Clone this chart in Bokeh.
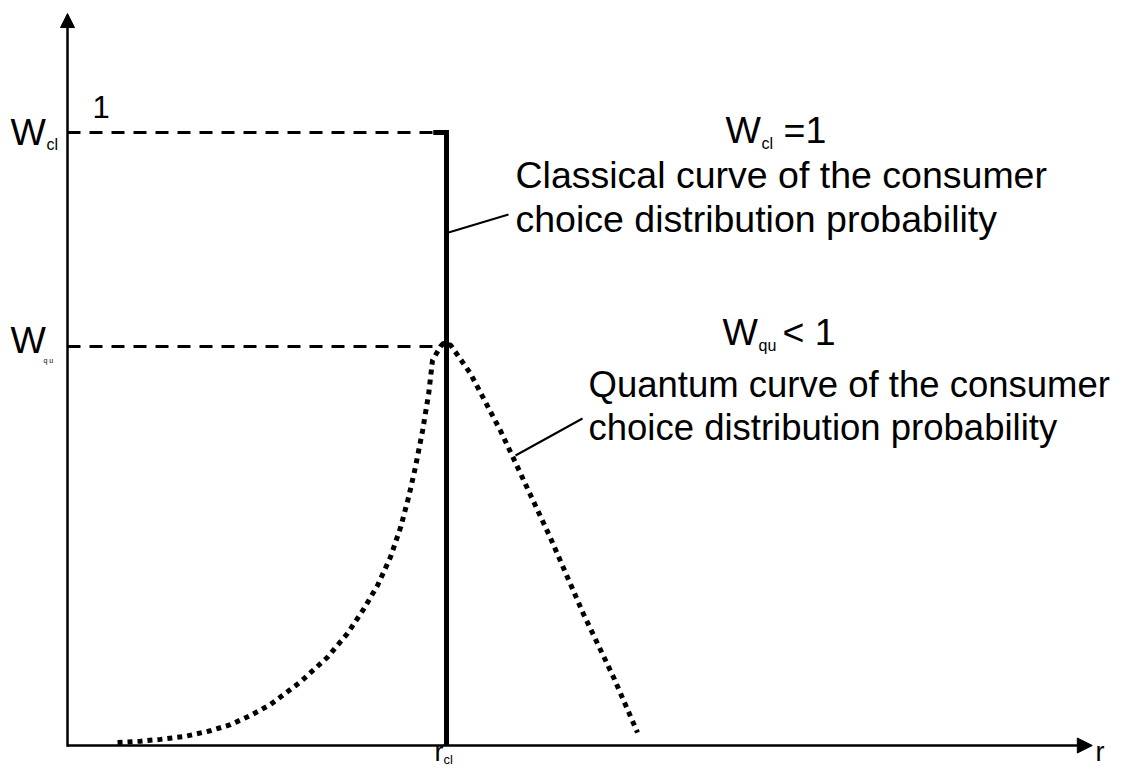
from bokeh.plotting import figure
from bokeh.models import Range1d, Arrow, NormalHead, Label
from bokeh.embed import file_html
from bokeh.resources import INLINE

# ---- data (r in units of r_cl, W as probability) ----
r_cl = 1.0
W_cl = 1.0
W_qu = 0.651
r_quantum = [0.132, 0.193, 0.245, 0.311, 0.377, 0.430, 0.483, 0.536, 0.615, 0.686,
             0.739, 0.781, 0.818, 0.852, 0.879, 0.900, 0.918, 0.937, 0.953, 0.963,
             0.984, 0.992, 1.011, 1.063, 1.142, 1.177, 1.274, 1.361, 1.441, 1.504]
w_quantum = [0.005, 0.007, 0.010, 0.015, 0.024, 0.034, 0.049, 0.067, 0.104, 0.144,
             0.183, 0.222, 0.261, 0.307, 0.356, 0.405, 0.454, 0.514, 0.574, 0.628,
             0.651, 0.656, 0.653, 0.607, 0.514, 0.468, 0.339, 0.215, 0.111, 0.021]
r_axis_end = 2.704
w_axis_end = 1.194

# ---- layout helpers (picture px -> data) ----
XS, YS = 379.0, 613.0
def px(x):
    return (x - 67) / XS
def py(y):
    return (745 - y) / YS

W, H = 1114, 767
p = figure(width=W, height=H, output_backend="svg", toolbar_location=None,
           title=None, x_axis_location=None, y_axis_location=None,
           x_range=Range1d(px(0), px(W)), y_range=Range1d(py(H), py(0)),
           min_border=0, outline_line_color=None, background_fill_color="white",
           border_fill_color="white")
p.xgrid.grid_line_color = None
p.ygrid.grid_line_color = None

FONT = "Liberation Sans"

# axes with arrows
p.add_layout(Arrow(end=NormalHead(size=15, fill_color="black", line_color="black", line_width=1),
                   x_start=0, y_start=0, x_end=r_axis_end, y_end=0,
                   line_width=2.5, line_color="black"))
p.add_layout(Arrow(end=NormalHead(size=14, fill_color="black", line_color="black", line_width=1),
                   x_start=0, y_start=-0.002, x_end=0, y_end=w_axis_end,
                   line_width=2.5, line_color="black"))

# dashed reference lines
p.line([0, r_cl], [W_cl, W_cl], line_color="black", line_width=3, line_dash="13 9")
p.line([0, r_quantum[20]], [W_qu, W_qu], line_color="black", line_width=3, line_dash="13 9")

# classical curve (vertical step at r_cl)
p.line([r_cl - 0.035, r_cl, r_cl], [W_cl, W_cl, 0], line_color="black", line_width=5,
       line_join="miter")

# quantum curve (dotted)
p.line(r_quantum, w_quantum, line_color="black", line_width=5, line_dash="5 5")

# leader lines
p.line([px(448), px(508)], [py(232), py(214)], line_color="black", line_width=2)
p.line([px(515), px(582)], [py(455), py(418)], line_color="black", line_width=2)

def lab(x, y, text, size):
    # y is the wanted baseline; the renderer draws ~0.35em lower, so compensate
    p.add_layout(Label(x=px(x), y=py(y - 0.35 * size), text=text, text_font=FONT,
                       text_font_size=f"{size}px", text_color="black",
                       text_align="left", text_baseline="alphabetic"))

# right-side annotations
lab(725, 143, "W", 37.5)
lab(761, 149, "cl", 16)
lab(783, 143, "=1", 37.5)
lab(515, 188, "Classical curve of the consumer", 37.5)
lab(515, 232, "choice distribution probability", 37.5)

lab(722, 345, "W", 37.5)
lab(758, 351, "qu", 16)
lab(782, 345, "< 1", 37.5)
lab(588, 397, "Quantum curve of the consumer", 36.5)
lab(588, 440, "choice distribution probability", 36.5)

# left labels
lab(10, 145, "W", 37.5)
lab(46, 150, "cl", 16)
lab(92, 117, "1", 31)
lab(10, 353, "W", 37.5)
lab(43, 362, "q u", 7)

# bottom labels
lab(434, 761, "r", 27)
lab(443, 764, "cl", 13)
lab(1095, 761, "r", 27)

open("out.html", "w").write(file_html(p, INLINE))
